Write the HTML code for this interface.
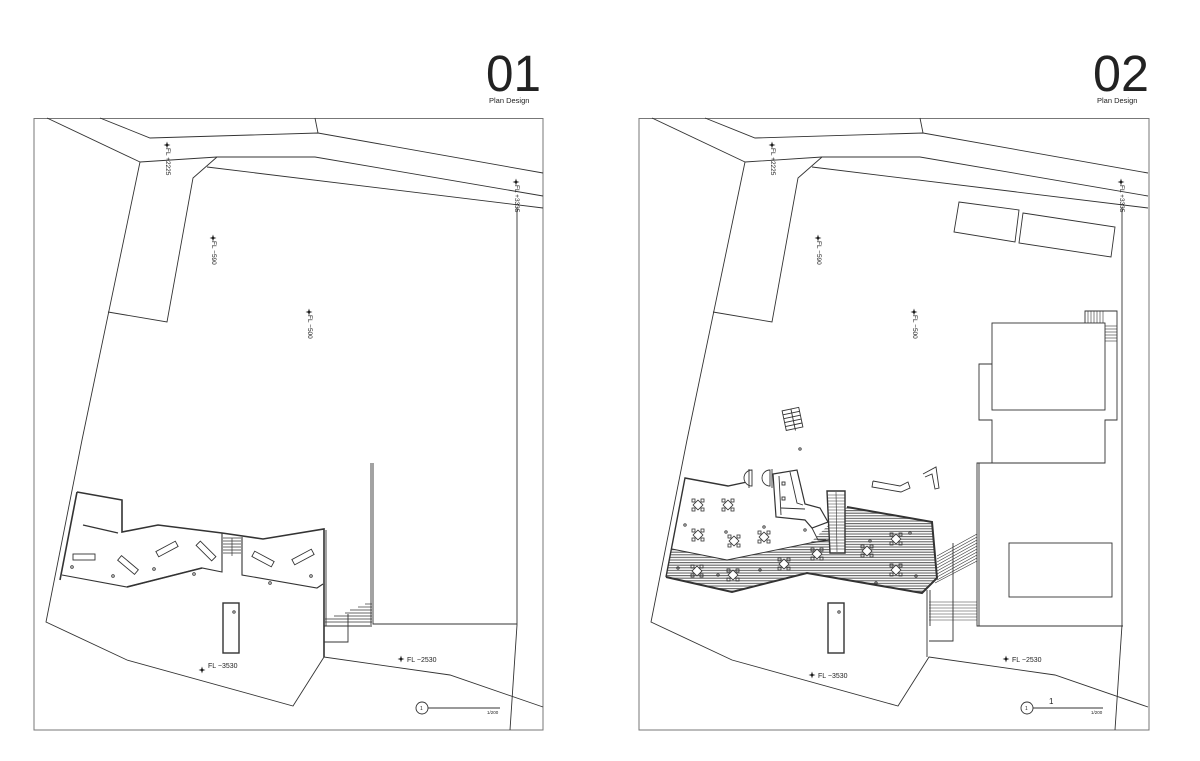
<!DOCTYPE html>
<html><head><meta charset="utf-8"><style>
html,body{margin:0;padding:0;background:#fff}
svg{display:block}
text{font-family:"Liberation Sans",sans-serif;fill:#222;stroke:none}
</style></head><body>
<svg width="1200" height="761" viewBox="0 0 1200 761" xmlns="http://www.w3.org/2000/svg">
<defs>
<pattern id="hatch" width="6" height="2.6" patternUnits="userSpaceOnUse">
<rect width="6" height="2.6" fill="#fff"/>
<line x1="0" y1="1" x2="6" y2="1" stroke="#666" stroke-width="1.1"/>
</pattern>
<g id="star"><path d="M0,-3.5 L0.8,-0.8 L3.5,0 L0.8,0.8 L0,3.5 L-0.8,0.8 L-3.5,0 L-0.8,-0.8Z" fill="#111" stroke="none"/></g>
<g id="tbl" fill="none" stroke="#333" stroke-width="0.8">
<rect x="-3.5" y="-3.5" width="7" height="7" transform="rotate(45)" fill="#fff"/>
<rect x="-6" y="-6" width="3" height="3"/><rect x="3" y="-6" width="3" height="3"/>
<rect x="-6" y="3" width="3" height="3"/><rect x="3" y="3" width="3" height="3"/>
</g>
<g id="site">
<g fill="none" stroke="#333" stroke-width="0.9">
<polyline points="47,118 140,162"/>
<polyline points="100,118 150,138 318,133 543,173"/>
<polyline points="315,118 318,133"/>
<polyline points="140,162 217,157 315,157 543,196"/>
<polyline points="217,157 193,178 167,322 108,312"/>
<polyline points="207,167 543,208"/>
<polyline points="140,162 82,440 46,622 127,660 293,706 324,657 450,675 543,707"/>
<polyline points="517,207 517,625 510,730"/>
</g>
<g transform="rotate(90 168 148)"><text x="168" y="150" font-size="6.5">FL +2225</text></g>
<use href="#star" x="167" y="145"/>
<g transform="rotate(90 214 241)"><text x="214" y="243" font-size="6.5">FL −590</text></g>
<use href="#star" x="213" y="238"/>
<g transform="rotate(90 310 315)"><text x="310" y="317" font-size="6.5">FL −500</text></g>
<use href="#star" x="309" y="312"/>
<g transform="rotate(90 517 185)"><text x="517" y="187" font-size="6.5">FL +3335</text></g>
<use href="#star" x="516" y="182"/>
</g>
</defs>

<text x="486" y="91" font-size="51" fill="#000" textLength="55" lengthAdjust="spacingAndGlyphs">01</text>
<text x="489" y="103" font-size="7.5">Plan Design</text>
<text x="1093" y="91" font-size="51" fill="#000" textLength="56" lengthAdjust="spacingAndGlyphs">02</text>
<text x="1097" y="103" font-size="7.5">Plan Design</text>

<rect x="34" y="118.5" width="509" height="611.5" fill="none" stroke="#777" stroke-width="1"/>
<rect x="639" y="118.5" width="510" height="611.5" fill="none" stroke="#777" stroke-width="1"/>

<!-- PLAN 1 -->
<use href="#site"/>
<g fill="none" stroke="#333" stroke-width="0.9">
<polyline points="77,492 122,500 122,532 158,525 222,533 263,539 324,529 324,657" stroke-width="1.6"/>
<polyline points="77,492 60,580" stroke-width="1.6"/>
<polyline points="83,525 118,533" stroke-width="1.4"/>
<polyline points="62,575 127,587 202,568 222,572 222,533" stroke-width="1.1"/>
<polyline points="127,587 202,568" stroke-width="1.6"/>
<polyline points="242,537 242,575 317,588 323,584" stroke-width="1.1"/>
<g stroke-width="0.7">
<line x1="223" y1="538" x2="241" y2="538"/><line x1="223" y1="541" x2="241" y2="541"/>
<line x1="223" y1="544" x2="241" y2="544"/><line x1="223" y1="547" x2="241" y2="547"/>
<line x1="223" y1="550" x2="241" y2="550"/><line x1="223" y1="553" x2="241" y2="553"/>
<line x1="232" y1="538" x2="232" y2="556"/>
</g>
<rect x="73" y="554" width="22" height="6"/>
<rect x="117" y="562" width="22" height="6" transform="rotate(40 128 565)"/>
<rect x="156" y="546" width="22" height="6" transform="rotate(-28 167 549)"/>
<rect x="195" y="548" width="22" height="6" transform="rotate(45 206 551)"/>
<rect x="252" y="556" width="22" height="6" transform="rotate(28 263 559)"/>
<rect x="292" y="554" width="22" height="6" transform="rotate(-28 303 557)"/>
<circle cx="72" cy="567" r="1.3"/><circle cx="113" cy="576" r="1.3"/><circle cx="154" cy="569" r="1.3"/>
<circle cx="194" cy="574" r="1.3"/><circle cx="270" cy="583" r="1.3"/><circle cx="311" cy="576" r="1.3"/>
<rect x="223" y="603" width="16" height="50" stroke-width="1.4"/>
<circle cx="234" cy="612" r="1.2"/>
<polyline points="371,463 371,625"/><polyline points="373,463 373,624 517,624"/>
<line x1="324" y1="626" x2="372" y2="626"/>
<g stroke-width="0.7">
<line x1="365" y1="604" x2="372" y2="604"/><line x1="358" y1="607" x2="372" y2="607"/>
<line x1="350" y1="610" x2="372" y2="610"/><line x1="345" y1="613" x2="372" y2="613"/>
<line x1="334" y1="616" x2="372" y2="616"/><line x1="325" y1="619" x2="372" y2="619"/>
<line x1="325" y1="622" x2="372" y2="622"/>
</g>
<polyline points="324,642 348,642 348,614"/>
<line x1="326" y1="530" x2="326" y2="626"/>
</g>
<use href="#star" x="202" y="670"/>
<text x="208" y="668" font-size="7">FL −3530</text>
<use href="#star" x="401" y="659"/>
<text x="407" y="662" font-size="7">FL −2530</text>
<circle cx="422" cy="708" r="6" fill="none" stroke="#333" stroke-width="0.9"/>
<text x="420" y="710" font-size="5">1</text>
<line x1="428" y1="708" x2="500" y2="708" stroke="#333" stroke-width="0.9"/>
<text x="487" y="714" font-size="4.5">1/200</text>

<!-- PLAN 2 -->
<use href="#site" transform="translate(605 0)"/>
<g fill="none" stroke="#333" stroke-width="0.9">
<polygon points="959,202 1019,210 1015,242 954,232"/>
<polygon points="1023,213 1115,227 1111,257 1019,243"/>
<rect x="992" y="323" width="113" height="87"/>
<polyline points="992,364 979,364 979,420 992,420 992,463 1105,463 1105,420 1117,420 1117,311 1085,311 1085,323"/>
<g stroke-width="0.6">
<line x1="1088" y1="311" x2="1088" y2="323"/><line x1="1091" y1="311" x2="1091" y2="323"/>
<line x1="1094" y1="311" x2="1094" y2="323"/><line x1="1097" y1="311" x2="1097" y2="323"/>
<line x1="1100" y1="311" x2="1100" y2="323"/><line x1="1103" y1="311" x2="1103" y2="323"/>
<line x1="1105" y1="326" x2="1117" y2="326"/><line x1="1105" y1="329" x2="1117" y2="329"/>
<line x1="1105" y1="332" x2="1117" y2="332"/><line x1="1105" y1="335" x2="1117" y2="335"/>
<line x1="1105" y1="338" x2="1117" y2="338"/><line x1="1105" y1="341" x2="1117" y2="341"/>
</g>
<polyline points="992,463 977,463 977,626 1123,626"/>
<line x1="979" y1="463" x2="979" y2="626"/>
<rect x="1009" y="543" width="103" height="54"/>
<polygon points="672,549 727,560 810,543 847,507 932,522 937,578 930,583 922,593 807,573 732,592 666,577" fill="url(#hatch)" stroke="none"/>
<polyline points="666,577 732,592 807,573 922,593 937,578 932,522 847,507" stroke-width="2"/>
<polyline points="666,577 685,478 728,486 747,482" stroke-width="1.4"/>
<polyline points="672,549 727,560 810,543 830,540"/>
<path d="M752,470 A8,8 0 0 0 752,486 Z" fill="#fff"/>
<path d="M770,470 A8,8 0 0 0 770,486 Z" fill="#fff"/>
<line x1="749" y1="469" x2="749" y2="488"/><line x1="772" y1="469" x2="772" y2="488"/>
<polygon points="773,474 797,470 805,504 820,508 828,522 812,528 805,520 776,517" fill="#fff" stroke-width="1.2"/>
<polyline points="779,476 781,515"/>
<polyline points="790,472 797,503 803,505"/>
<line x1="781" y1="508" x2="805" y2="509"/>
<rect x="782" y="482" width="3" height="3"/><rect x="782" y="497" width="3" height="3"/>
<polyline points="812,528 818,540 826,540"/>
<polygon points="827,491 845,491 845,553 830,553" fill="#fff" stroke-width="1.4"/>
<g stroke-width="0.6">
<line x1="828" y1="495" x2="845" y2="495"/><line x1="828" y1="498" x2="845" y2="498"/><line x1="828" y1="501" x2="845" y2="501"/>
<line x1="828" y1="504" x2="845" y2="504"/><line x1="828" y1="507" x2="845" y2="507"/><line x1="828" y1="510" x2="845" y2="510"/>
<line x1="828" y1="513" x2="845" y2="513"/><line x1="828" y1="516" x2="845" y2="516"/><line x1="828" y1="519" x2="845" y2="519"/>
<line x1="829" y1="522" x2="845" y2="522"/><line x1="829" y1="525" x2="845" y2="525"/><line x1="829" y1="528" x2="845" y2="528"/>
<line x1="829" y1="531" x2="845" y2="531"/><line x1="829" y1="534" x2="845" y2="534"/><line x1="829" y1="537" x2="845" y2="537"/>
<line x1="829" y1="540" x2="845" y2="540"/><line x1="830" y1="543" x2="845" y2="543"/><line x1="830" y1="546" x2="845" y2="546"/>
<line x1="830" y1="549" x2="845" y2="549"/>
<line x1="836" y1="492" x2="837" y2="552"/>
</g>
<polyline points="873,481 900,486 908,482 910,488 901,492 872,487 873,481"/>
<polyline points="923,474 936,467 939,488 935,489 932,474 925,477"/>
<g transform="rotate(-12 792 419)">
<rect x="784" y="409" width="17" height="20"/>
<line x1="784" y1="413" x2="801" y2="413"/><line x1="784" y1="417" x2="801" y2="417"/>
<line x1="784" y1="421" x2="801" y2="421"/><line x1="784" y1="425" x2="801" y2="425"/>
<line x1="793" y1="409" x2="793" y2="431"/>
</g>
<circle cx="800" cy="449" r="1.2"/>
<g stroke-width="0.6">
<line x1="937" y1="556" x2="977" y2="534"/><line x1="937" y1="559" x2="977" y2="537"/>
<line x1="937" y1="562" x2="977" y2="540"/><line x1="937" y1="565" x2="977" y2="543"/>
<line x1="937" y1="568" x2="977" y2="546"/><line x1="937" y1="571" x2="977" y2="549"/>
<line x1="937" y1="574" x2="977" y2="552"/><line x1="937" y1="577" x2="977" y2="555"/>
<line x1="937" y1="580" x2="977" y2="558"/><line x1="935" y1="583" x2="977" y2="561"/>
<line x1="929" y1="602" x2="977" y2="602"/><line x1="929" y1="605" x2="977" y2="605"/>
<line x1="929" y1="608" x2="977" y2="608"/><line x1="929" y1="611" x2="977" y2="611"/>
<line x1="929" y1="614" x2="977" y2="614"/><line x1="929" y1="617" x2="977" y2="617"/>
<line x1="929" y1="620" x2="977" y2="620"/>
</g>
<line x1="927" y1="590" x2="927" y2="657"/><line x1="930" y1="590" x2="930" y2="626"/>
<polyline points="929,641 953,641 953,543"/>
<rect x="828" y="603" width="16" height="50" stroke-width="1.4"/>
<circle cx="839" cy="612" r="1.2"/>
<circle cx="685" cy="525" r="1.2"/><circle cx="726" cy="532" r="1.2"/><circle cx="764" cy="527" r="1.2"/>
<circle cx="805" cy="530" r="1.2"/><circle cx="870" cy="541" r="1.2"/><circle cx="910" cy="533" r="1.2"/>
<circle cx="678" cy="568" r="1.2"/><circle cx="718" cy="575" r="1.2"/><circle cx="760" cy="570" r="1.2"/>
<circle cx="916" cy="576" r="1.2"/><circle cx="876" cy="583" r="1.2"/>
</g>
<g>
<use href="#tbl" x="698" y="505"/><use href="#tbl" x="728" y="505"/><use href="#tbl" x="698" y="535"/>
<use href="#tbl" x="734" y="541"/><use href="#tbl" x="764" y="537"/><use href="#tbl" x="697" y="571"/>
<use href="#tbl" x="733" y="575"/><use href="#tbl" x="784" y="564"/><use href="#tbl" x="817" y="554"/>
<use href="#tbl" x="867" y="551"/><use href="#tbl" x="896" y="539"/><use href="#tbl" x="896" y="570"/>
</g>
<use href="#star" x="812" y="675"/>
<text x="818" y="678" font-size="7">FL −3530</text>
<use href="#star" x="1006" y="659"/>
<text x="1012" y="662" font-size="7">FL −2530</text>
<circle cx="1027" cy="708" r="6" fill="none" stroke="#333" stroke-width="0.9"/>
<text x="1025" y="710" font-size="5">1</text>
<line x1="1033" y1="708" x2="1103" y2="708" stroke="#333" stroke-width="0.9"/>
<text x="1049" y="704" font-size="8">1</text>
<text x="1091" y="714" font-size="4.5">1/200</text>
</svg>
</body></html>
